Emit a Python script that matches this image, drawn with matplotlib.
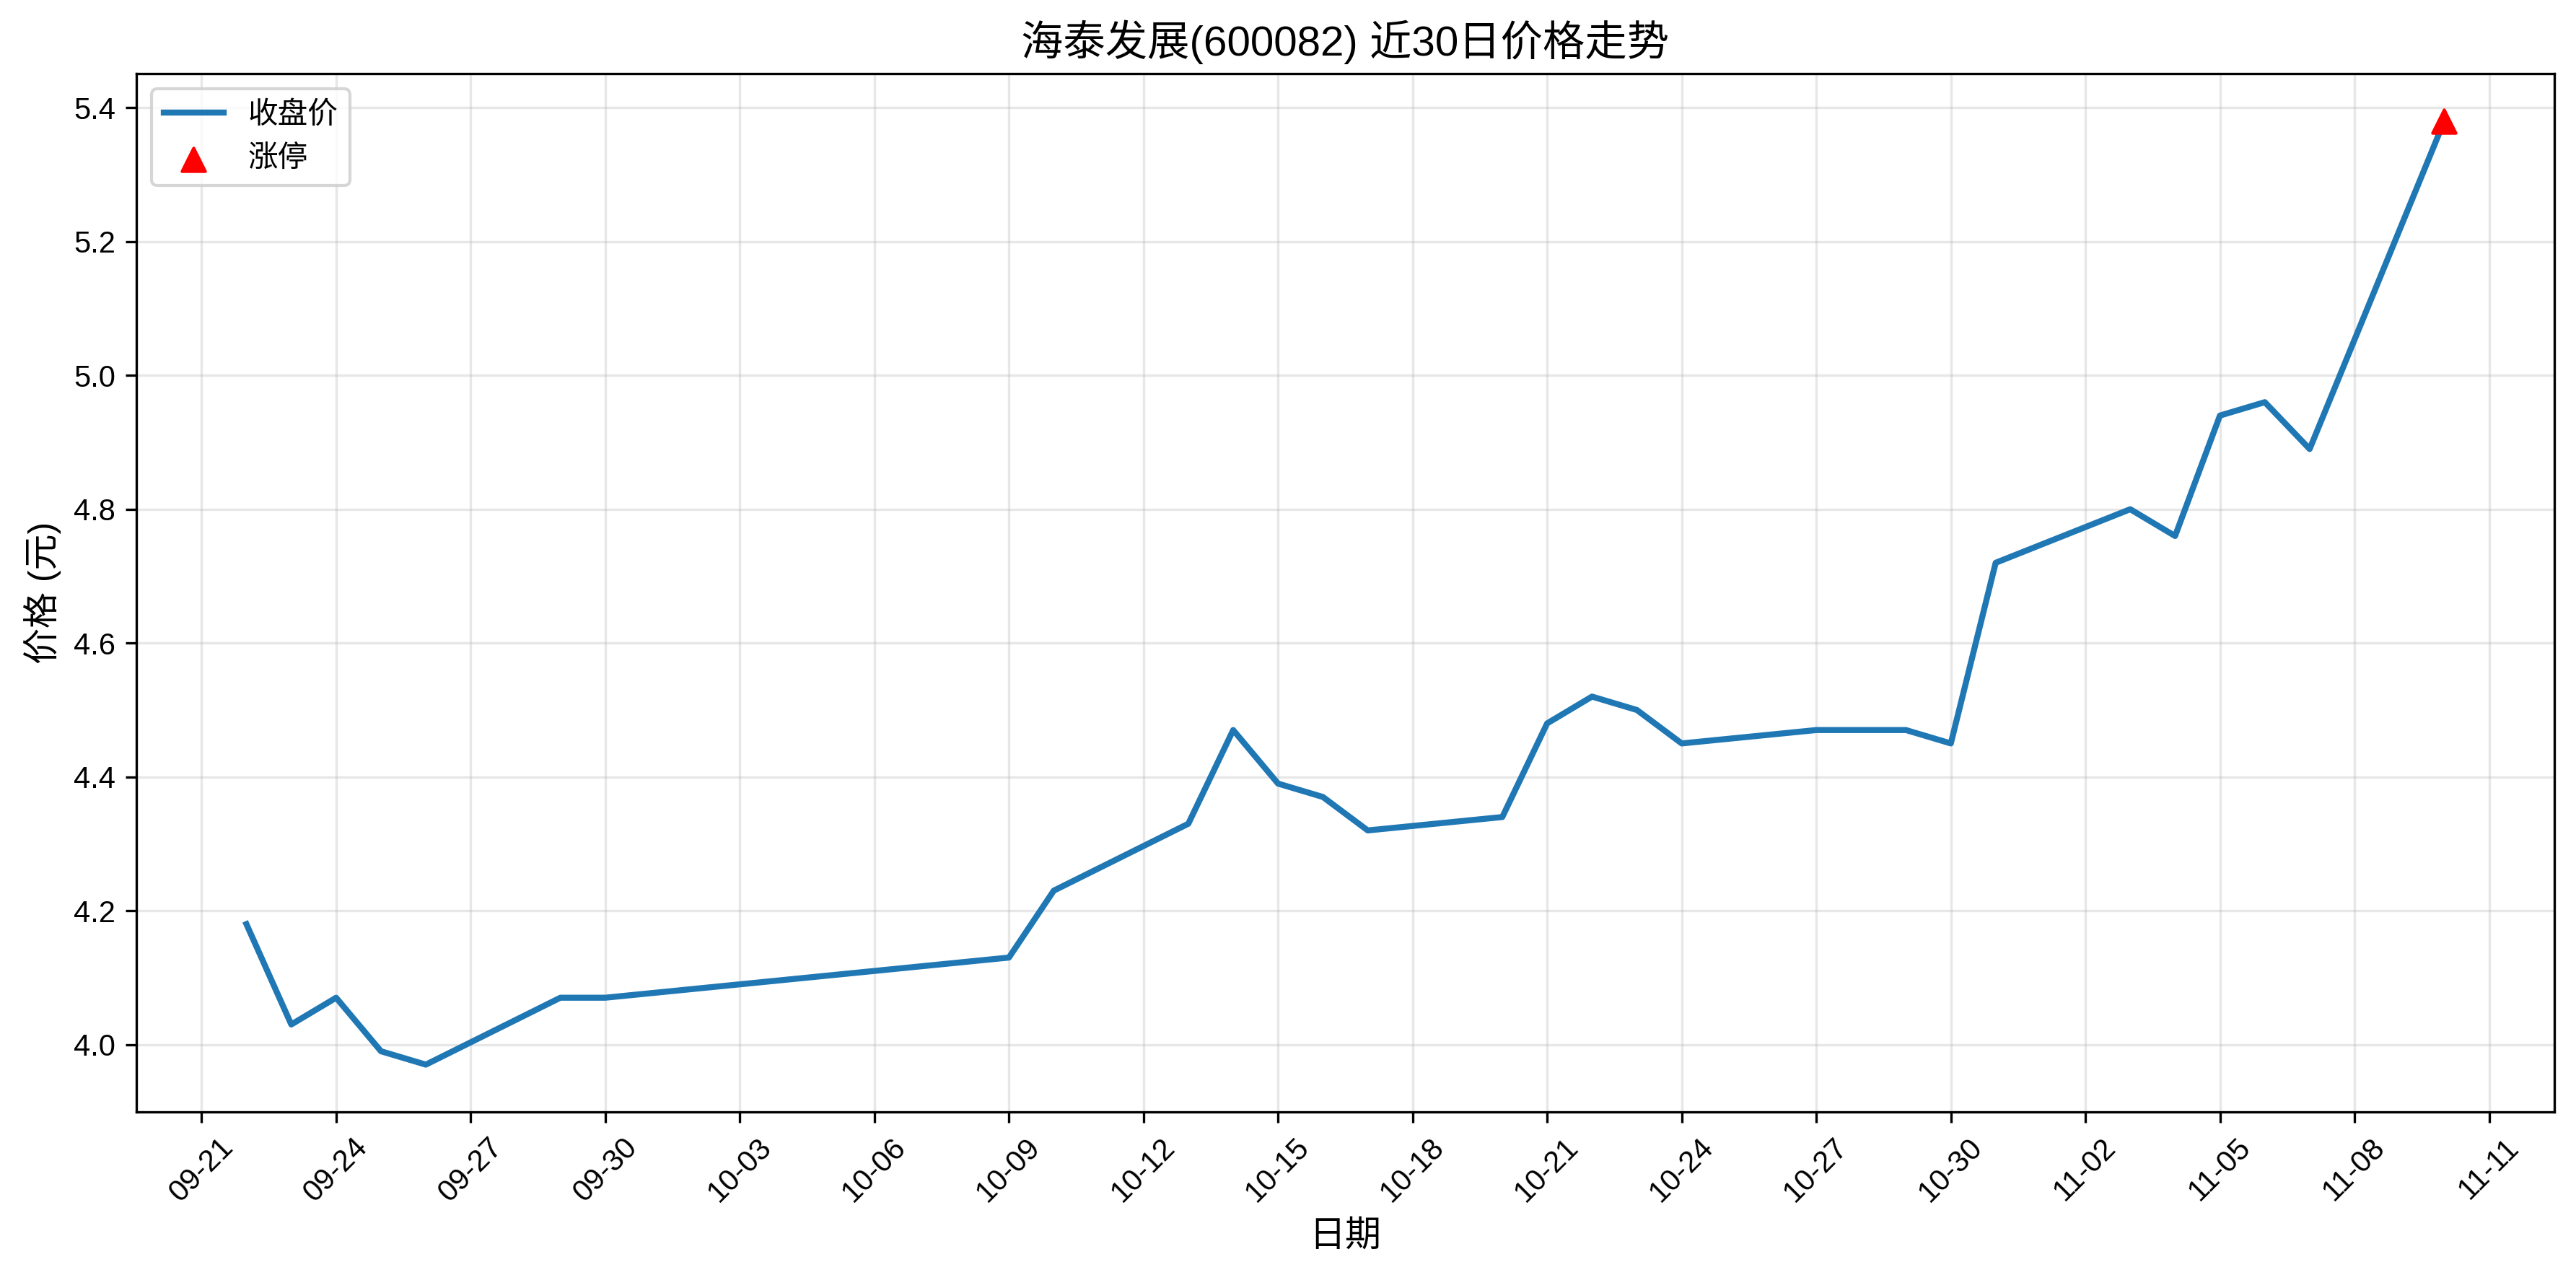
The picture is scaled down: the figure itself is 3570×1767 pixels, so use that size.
import matplotlib

matplotlib.use("Agg")
import matplotlib.dates as mdates
import matplotlib.pyplot as plt
import pandas as pd

plt.rcParams["font.family"] = ["Liberation Sans", "Noto Sans CJK SC", "DejaVu Sans"]
plt.rcParams["axes.unicode_minus"] = False

dates = [
    "2025-09-22", "2025-09-23", "2025-09-24", "2025-09-25", "2025-09-26",
    "2025-09-29", "2025-09-30", "2025-10-09", "2025-10-10", "2025-10-13",
    "2025-10-14", "2025-10-15", "2025-10-16", "2025-10-17", "2025-10-20",
    "2025-10-21", "2025-10-22", "2025-10-23", "2025-10-24", "2025-10-27",
    "2025-10-28", "2025-10-29", "2025-10-30", "2025-10-31", "2025-11-03",
    "2025-11-04", "2025-11-05", "2025-11-06", "2025-11-07", "2025-11-10",
]
close = [
    4.18, 4.03, 4.07, 3.99, 3.97,
    4.07, 4.07, 4.13, 4.23, 4.33,
    4.47, 4.39, 4.37, 4.32, 4.34,
    4.48, 4.52, 4.50, 4.45, 4.47,
    4.47, 4.47, 4.45, 4.72, 4.80,
    4.76, 4.94, 4.96, 4.89, 5.38,
]
limit_up_dates = ["2025-11-10"]
limit_up_close = [5.38]

x = pd.to_datetime(dates)
xu = pd.to_datetime(limit_up_dates)

fig, ax = plt.subplots(figsize=(11.9, 5.89), dpi=300)
fig.subplots_adjust(left=0.053, right=0.9915, top=0.942, bottom=0.128)

ax.plot(x, close, color="#1f77b4", linewidth=2, label="收盘价")
ax.scatter(xu, limit_up_close, color="red", marker="^", s=60, zorder=5, label="涨停")

ax.set_title("海泰发展(600082) 近30日价格走势", fontsize=14)
ax.set_xlabel("日期", fontsize=12)
ax.set_ylabel("价格 (元)", fontsize=12)
ax.grid(True, alpha=0.3)
ax.legend(loc="upper left", fontsize=10)

ax.xaxis.set_major_locator(mdates.DayLocator(interval=3))
ax.xaxis.set_major_formatter(mdates.DateFormatter("%m-%d"))
plt.setp(ax.get_xticklabels(), rotation=45)
ax.tick_params(labelsize=10)

fig.savefig("out.png", dpi=300)
